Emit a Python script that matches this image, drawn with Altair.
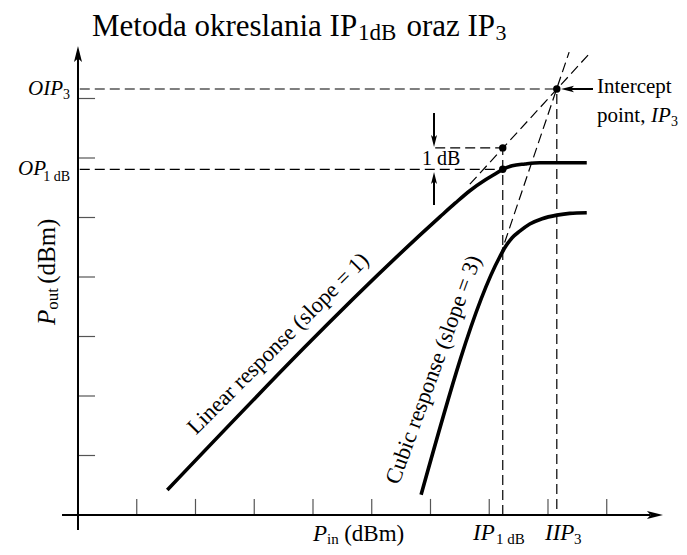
import altair as alt
import pandas as pd

# ---------------- data (in chart units; one tick step = 10) ----------------
x_ticks = [10, 20, 30, 40, 50, 60, 70, 80, 90]
y_ticks = [10, 20, 30, 40, 50, 60, 70]

# Linear response (slope = 1) with 1 dB compression and saturation
lin_x = [15.2, 61.6, 64.2, 66.7, 69.3, 71.0, 72.3, 73.9, 76.1, 78.6, 86.6]
lin_y = [4.2, 50.1, 52.4, 54.5, 56.3, 57.3, 58.1, 58.7, 59.0, 59.2, 59.2]

# Cubic response (slope = 3) with saturation
cub_x = [58.4, 71.8, 72.7, 73.9, 75.2, 76.9, 79.0, 81.5, 83.7, 86.6]
cub_y = [3.4, 43.4, 45.0, 46.6, 47.7, 48.9, 49.8, 50.4, 50.7, 50.8]

# characteristic points
ip1db = 72.3      # input 1 dB compression point
op1db = 58.1      # output 1 dB compression point
lin_at_ip1db = 61.7
iip3 = 81.5
oip3 = 71.6

# extrapolation lines (dashed)
lin_ext_x = [66.7, 87.2]
lin_ext_y = [55.6, 77.7]
cub_ext_x = [71.8, 83.6]
cub_ext_y = [43.4, 77.8]

XDOM = [-11.915, 102.30]
YDOM = [-5.378, 85.21]
FONT = "Liberation Serif"


def X(f):
    return alt.X(f, type="quantitative", scale=alt.Scale(domain=XDOM, nice=False, zero=False), axis=None)


def Y(f):
    return alt.Y(f, type="quantitative", scale=alt.Scale(domain=YDOM, nice=False, zero=False), axis=None)


layers = []

# tick marks
xt = pd.DataFrame({"x": x_ticks, "y": [0] * len(x_ticks), "y2": [2.7] * len(x_ticks)})
layers.append(alt.Chart(xt).mark_rule(color="#555555", strokeWidth=1.2).encode(
    x=X("x"), y=Y("y"), y2="y2:Q"))
yt = pd.DataFrame({"y": y_ticks, "x": [0] * len(y_ticks), "x2": [2.9] * len(y_ticks)})
layers.append(alt.Chart(yt).mark_rule(color="#555555", strokeWidth=1.2).encode(
    x=X("x"), x2="x2:Q", y=Y("y")))

# axis lines
ax = pd.DataFrame({"x": [-2.72, 0.0], "y": [0.0, -2.52], "x2": [97.4, 0.0], "y2": [0.0, 77.1]})
layers.append(alt.Chart(ax).mark_rule(color="black", strokeWidth=2).encode(
    x=X("x"), y=Y("y"), x2="x2:Q", y2="y2:Q"))

# dashed construction lines
dash = pd.DataFrame({
    "x":  [0.3, 0.3, 60.8, ip1db, iip3, lin_ext_x[0], cub_ext_x[0]],
    "y":  [oip3, op1db, lin_at_ip1db, 0.0, 1.0, lin_ext_y[0], cub_ext_y[0]],
    "x2": [iip3, ip1db, ip1db, ip1db, iip3, lin_ext_x[1], cub_ext_x[1]],
    "y2": [oip3, op1db, lin_at_ip1db, lin_at_ip1db, oip3, lin_ext_y[1], cub_ext_y[1]],
})
layers.append(alt.Chart(dash).mark_rule(color="black", strokeWidth=1.2, strokeDash=[10, 5]).encode(
    x=X("x"), y=Y("y"), x2="x2:Q", y2="y2:Q"))

# response curves
curves = pd.concat([
    pd.DataFrame({"x": lin_x, "y": lin_y, "s": "linear"}),
    pd.DataFrame({"x": cub_x, "y": cub_y, "s": "cubic"}),
])
layers.append(alt.Chart(curves).mark_line(color="black", strokeWidth=3.6, interpolate="monotone",
                                           strokeCap="butt").encode(
    x=X("x"), y=Y("y"), detail="s:N", order="x:Q"))

# arrow shafts
shafts = pd.DataFrame({
    "x": [87.66, 60.6, 60.6], "y": [oip3, 67.56, 52.1],
    "x2": [83.9, 60.6, 60.6], "y2": [oip3, 62.7, 56.6]})
layers.append(alt.Chart(shafts).mark_rule(color="black", strokeWidth=2).encode(
    x=X("x"), y=Y("y"), x2="x2:Q", y2="y2:Q"))

# arrow heads (centre positions, direction in degrees clockwise from up)
ARROW = "M0,-1L0.5,1L0,0.55L-0.5,1Z"
heads = pd.DataFrame({
    "x": [0.0, 98.21, 83.32, 60.6, 60.6],
    "y": [77.48, 0.0, oip3, 62.86, 56.64],
    "angle": [0, 90, 270, 180, 0],
    "size": [256, 256, 169, 144, 144]})
layers.append(alt.Chart(heads).mark_point(shape=ARROW, filled=True, color="black", opacity=1,
                                          strokeWidth=0).encode(
    x=X("x"), y=Y("y"), angle=alt.Angle("angle:Q", scale=None), size=alt.Size("size:Q", scale=None)))

# dots
dots = pd.DataFrame({"x": [ip1db, ip1db, iip3], "y": [lin_at_ip1db, op1db, oip3]})
layers.append(alt.Chart(dots).mark_circle(color="black", size=55, opacity=1).encode(x=X("x"), y=Y("y")))

# text annotations: text, x, y, size, italic, angle, align
texts = [
    ("Metoda okreslania IP", 2.38, 80.5, 31, False, 0, "left"),
    ("1dB", 47.66, 79.9, 23, False, 0, "left"),
    ("oraz IP", 55.9, 80.5, 31, False, 0, "left"),
    ("3", 71.05, 79.9, 22, False, 0, "left"),
    ("OIP", -2.55, 70.59, 21, True, 0, "right"),
    ("3", -1.36, 69.92, 14, False, 0, "right"),
    ("OP", -5.45, 57.14, 21, True, 0, "right"),
    ("1 dB", -1.36, 56.13, 14, False, 0, "right"),
    ("Intercept", 88.34, 70.92, 21, False, 0, "left"),
    ("point, ", 88.34, 66.05, 21, False, 0, "left"),
    ("IP", 97.53, 66.05, 21, True, 0, "left"),
    ("3", 100.94, 65.38, 14, False, 0, "left"),
    ("1 dB", 58.55, 58.82, 20, False, 0, "left"),
    ("P", 40.0, -4.37, 23, True, 0, "left"),
    ("in", 42.38, -4.87, 15, False, 0, "left"),
    ("(dBm)", 45.3, -4.37, 23, False, 0, "left"),
    ("IP", 67.23, -4.2, 23, True, 0, "left"),
    ("1 dB", 71.15, -4.87, 15, False, 0, "left"),
    ("IIP", 79.49, -4.2, 23, True, 0, "left"),
    ("3", 84.43, -4.87, 15, False, 0, "left"),
    ("P", -3.91, 31.93, 25, True, 270, "left"),
    ("out", -3.40, 34.50, 17, False, 270, "left"),
    ("(dBm)", -3.91, 38.85, 25, False, 270, "left"),
    ("Linear response (slope = 1)", 34.89, 27.98, 22.5, False, 315, "center"),
    ("Cubic response (slope = 3)", 61.62, 24.03, 22.5, False, 290, "center"),
]
for t, tx, ty, fs, it, ang, al in texts:
    df = pd.DataFrame({"x": [tx], "y": [ty], "t": [t]})
    kw = dict(font=FONT, fontSize=fs, color="black", align=al, baseline="alphabetic", angle=ang)
    if it:
        kw["fontStyle"] = "italic"
    layers.append(alt.Chart(df).mark_text(**kw).encode(x=X("x"), y=Y("y"), text="t:N"))

chart = alt.layer(*layers).properties(
    width=671, height=539, padding=0, autosize=alt.AutoSizeParams(type="none")
).configure_view(strokeWidth=0)

chart.save("out.html", embed_options={"renderer": "svg", "actions": False})
